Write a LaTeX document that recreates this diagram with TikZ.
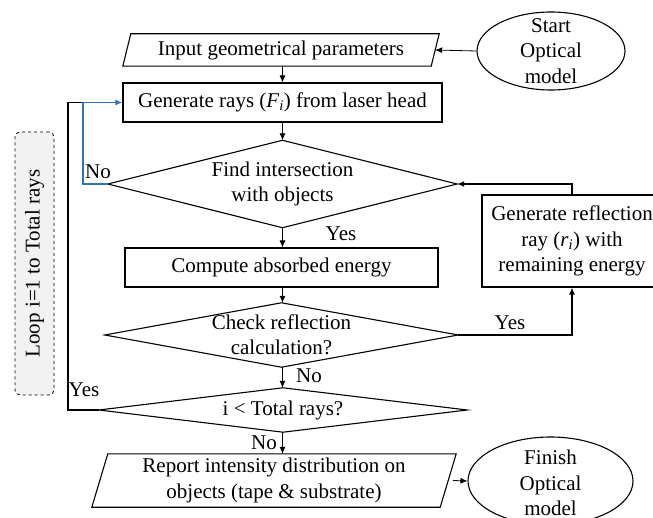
\documentclass[tikz,border=0pt]{standalone}
\usepackage{fontspec}
\setmainfont{Liberation Serif}
\usetikzlibrary{shapes.geometric,arrows.meta}
\definecolor{loopblue}{RGB}{46,117,182}
\tikzset{
  every node/.style={font=\fontsize{21}{25.5}\selectfont},
  boxnode/.style={draw, line width=1.1pt, rectangle, inner sep=0pt},
  plainbox/.style={rectangle, inner sep=0pt, align=center},
  outline/.style={line width=1.1pt},
  ell/.style={draw, line width=1.1pt, ellipse, inner sep=0pt},
  arr/.style={line width=0.8pt, -{Latex[length=7pt,width=6pt]}},
  thickline/.style={line width=1.8pt},
  lbl/.style={inner sep=0pt},
}
\begin{document}
\begin{tikzpicture}[x=1pt,y=-1pt]
\useasboundingbox (0,0) rectangle (653,518);
% shapes
\node[ell, minimum width=148, minimum height=78] (start) at (551,51) {};
\node[plainbox] (starttxt) at (551,51) {Start\\Optical\\model};
\node[plainbox, minimum width=316, minimum height=32] (input) at (281,50) {Input geometrical parameters};
\draw[outline] (input.south west) -- ([xshift=8pt]input.north west) -- (input.north east) -- ([xshift=-8pt]input.south east) -- cycle;
\node[boxnode, minimum width=319, minimum height=39] (gen) at (282.5,102.5) {Generate rays (\textit{F}\textsubscript{\textit{i}}) from laser head};
\node[plainbox, minimum width=349, minimum height=87] (d1) at (282.5,184) {Find intersection\\with objects};
\draw[outline] (d1.north) -- (d1.east) -- (d1.south) -- (d1.west) -- cycle;
\node[boxnode, minimum width=313, minimum height=39] (comp) at (281.5,267.5) {Compute absorbed energy};
\node[plainbox, minimum width=353, minimum height=64] (d2) at (281.5,335) {Check reflection\\calculation?};
\draw[outline] (d2.north) -- (d2.east) -- (d2.south) -- (d2.west) -- cycle;
\node[plainbox, minimum width=368, minimum height=44] (d3) at (283,410) {i {<} Total rays?};
\draw[outline] (d3.north) -- (d3.east) -- (d3.south) -- (d3.west) -- cycle;
\node[boxnode, minimum width=180, minimum height=92, align=center] (refl) at (572,241) {Generate reflection\\ray (\textit{r}\textsubscript{\textit{i}}) with\\remaining energy};
\node[plainbox, minimum width=364, minimum height=53] (report) at (274,480.5) {Report intensity distribution on\\objects (tape \& substrate)};
\draw[outline] (report.south west) -- ([xshift=16pt]report.north west) -- (report.north east) -- ([xshift=-16pt]report.south east) -- cycle;
\node[ell, minimum width=165, minimum height=88] (finish) at (550.5,481) {};
\node[plainbox] (finishtxt) at (550.5,483) {Finish\\Optical\\model};
\node[draw, dashed, line width=0.8pt, rounded corners=5pt, fill=gray!10, minimum width=39, minimum height=263, inner sep=0pt] (loop) at (34.5,263.5) {};
\node[rotate=90] (looptxt) at (loop.center) {Loop i=1 to Total rays};
% connectors
\draw[arr] (start.west) -- ([xshift=-4pt]input.east);
\draw[arr] (gen.north |- input.south) -- (gen.north);
\draw[arr] (gen.south -| d1.north) -- (d1.north);
\draw[arr] (d1.south) -- (d1.south |- comp.north);
\draw[arr] (d1.south |- comp.south) -- (d1.south |- d2.north);
\draw[arr] (d1.south |- d2.south) -- (d1.south |- d3.north);
\draw[arr] (d1.south |- d3.south) -- (d1.south |- report.north);
\draw[arr] ([xshift=-3pt]report.east) -- (finish.west);
\draw[thickline, -{Latex[length=7pt,width=6pt]}] (d2.east) -| (refl.south);
\draw[thickline, -{Latex[length=7pt,width=6pt]}] (refl.north) |- (d1.east);
\coordinate (jn) at (83,102.5);
\coordinate (lp) at (68,410);
\draw[thickline] (d3.west) -- (lp) |- (jn);
\draw[loopblue, line width=1.8pt, -{Latex[length=7pt,width=6pt]}] (d1.west) -| (jn) -- (gen.west);
% labels
\node[lbl] (l1) at (98,172) {No};
\node[lbl] (l2) at (341,234) {Yes};
\node[lbl] (l3) at (510,323) {Yes};
\node[lbl] (l4) at (309,376) {No};
\node[lbl] (l5) at (84,390) {Yes};
\node[lbl] (l6) at (264,443) {No};
\end{tikzpicture}
\end{document}
